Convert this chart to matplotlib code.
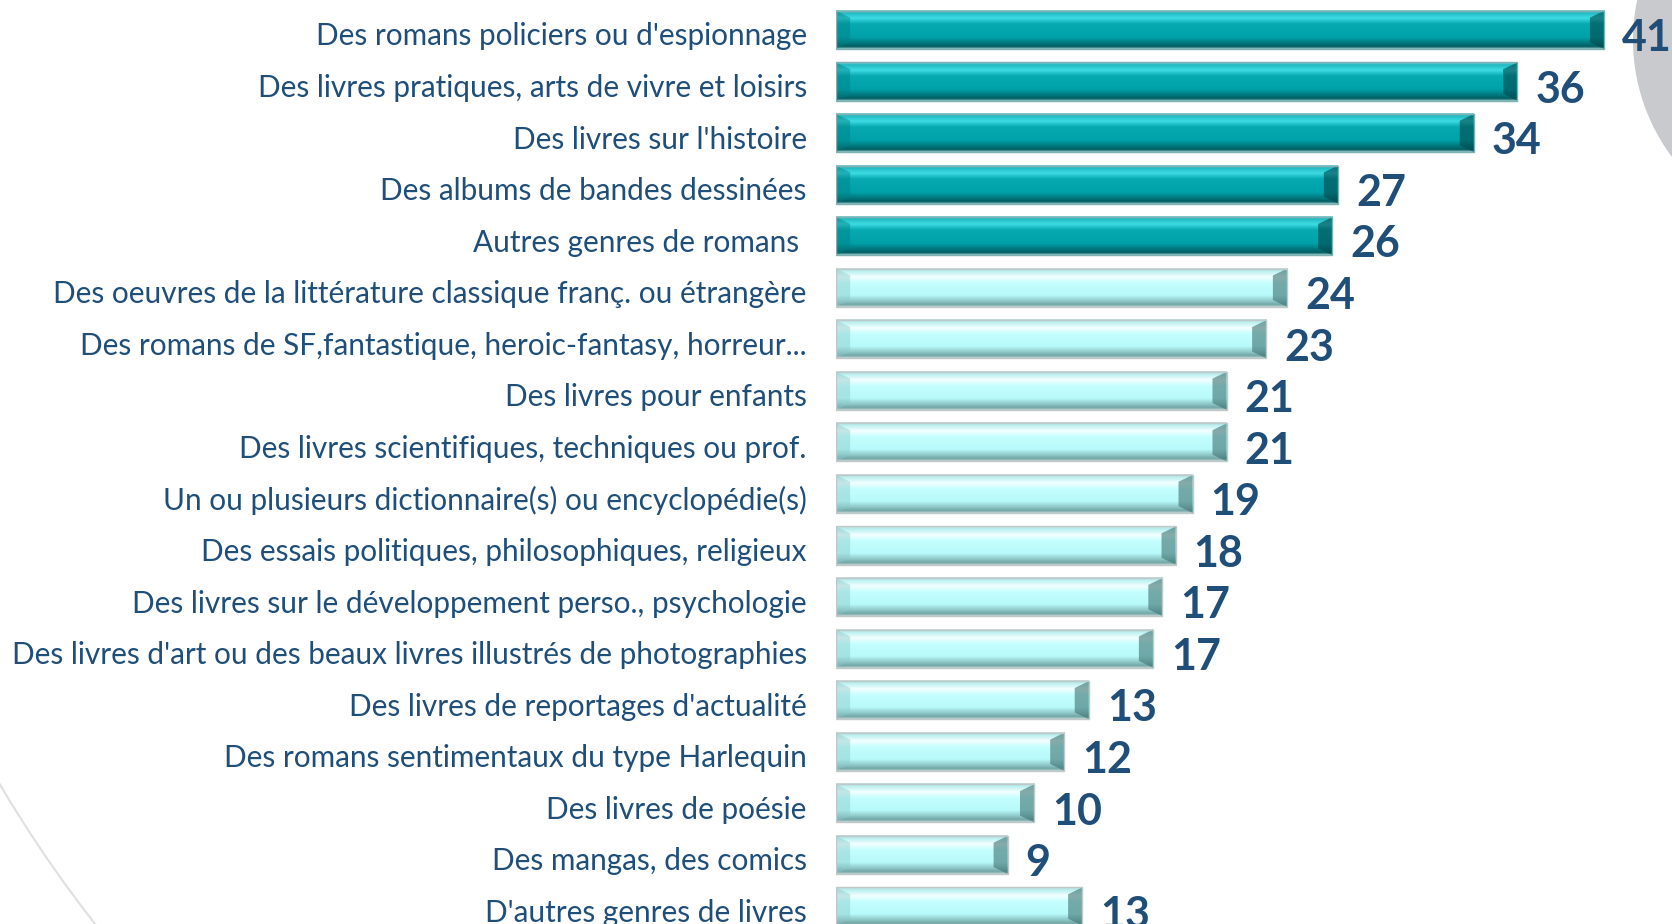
import numpy as np
import matplotlib
matplotlib.use("Agg")
import matplotlib.pyplot as plt
from matplotlib.colors import LinearSegmentedColormap
from matplotlib.patches import Circle, Polygon, Rectangle
from matplotlib.transforms import ScaledTranslation

labels = [
    "Des romans policiers ou d'espionnage",
    "Des livres pratiques, arts de vivre et loisirs",
    "Des livres sur l'histoire",
    "Des albums de bandes dessinées",
    "Autres genres de romans ",
    "Des oeuvres de la littérature classique franç. ou étrangère",
    "Des romans de SF,fantastique, heroic-fantasy, horreur...",
    "Des livres pour enfants",
    "Des livres scientifiques, techniques ou prof.",
    "Un ou plusieurs dictionnaire(s) ou encyclopédie(s)",
    "Des essais politiques, philosophiques, religieux",
    "Des livres sur le développement perso., psychologie",
    "Des livres d'art ou des beaux livres illustrés de photographies",
    "Des livres de reportages d'actualité",
    "Des romans sentimentaux du type Harlequin",
    "Des livres de poésie",
    "Des mangas, des comics",
    "D'autres genres de livres",
]
shares = [40.7, 36.1, 33.8, 26.6, 26.3, 23.9, 22.8, 20.7, 20.7, 18.9, 18.0, 17.3,
          16.8, 13.4, 12.1, 10.5, 9.1, 13.05]
shown = [41, 36, 34, 27, 26, 24, 23, 21, 21, 19, 18, 17, 17, 13, 12, 10, 9, 13]
n_dark = 5  # top genres drawn in dark teal

txt_color = "#1F4E79"

# vertical shading of the bars (top -> bottom)
dark_cmap = LinearSegmentedColormap.from_list("dk", [
    (0.0, "#8FD0D2"), (0.06, "#1FB8C0"), (0.2, "#3FDCE4"), (0.35, "#08AAB2"),
    (0.7, "#00A2AA"), (0.85, "#00787E"), (0.95, "#005A5E"), (1.0, "#9CCFD0")])
light_cmap = LinearSegmentedColormap.from_list("lt", [
    (0.0, "#C9D6D6"), (0.06, "#B4EEEE"), (0.22, "#F4FFFF"), (0.38, "#C4FEFE"),
    (0.7, "#B8FAFA"), (0.85, "#90C9C9"), (0.95, "#6EA4A4"), (1.0, "#C8D4D4")])

fig = plt.figure(figsize=(16.72, 9.24), dpi=100)

# background decoration (pixel coordinates)
bg = fig.add_axes([0, 0, 1, 1], zorder=0)
bg.set_xlim(0, 1672)
bg.set_ylim(924, 0)
bg.axis("off")
bg.add_patch(Circle((1828, 40), 195, color="#C9CACE", lw=0))
bg.add_patch(Circle((1119, 123), 1300, fill=False, edgecolor="#E0E0E0", lw=1.5))

ax = fig.add_axes([0.5, 0, 0.5, 1], zorder=1)
ax.patch.set_alpha(0)

y = np.arange(len(shares))
h = 0.74
bev_x = 0.75
bev_y = 0.18 * h
grad = np.linspace(0, 1, 64).reshape(-1, 1)

for i, v in enumerate(shares):
    top, bot = y[i] - h / 2, y[i] + h / 2
    dark = i < n_dark
    cmap = dark_cmap if dark else light_cmap
    ax.imshow(grad, cmap=cmap, aspect="auto", extent=[0, v, bot, top],
              interpolation="bicubic", zorder=2)
    # end bevels
    ax.add_patch(Polygon([(0, top), (bev_x, top + bev_y), (bev_x, bot - bev_y), (0, bot)],
                         closed=True, lw=0, zorder=3,
                         facecolor="#007F86" if dark else "#8ACACA", alpha=0.45))
    ax.add_patch(Polygon([(v, top), (v - bev_x, top + bev_y), (v - bev_x, bot - bev_y), (v, bot)],
                         closed=True, lw=0, zorder=3,
                         facecolor="#00484C" if dark else "#3F7272", alpha=0.6))
    ax.add_patch(Rectangle((0, top), v, h, fill=False, lw=1.0, zorder=4,
                           edgecolor="#7FB0B2" if dark else "#BFC9C9"))
    ax.text(v + 0.95, y[i] + 0.16, str(shown[i]), ha="left", va="center",
            fontsize=31, fontweight="bold", family="Lato", color=txt_color, zorder=5)

ax.set_xlim(0, 44.3)
ax.set_ylim(17.34, -0.58)
ax.set_yticks(y)
ax.set_yticklabels(labels, family="Lato", fontsize=21.4, color=txt_color)
ax.tick_params(axis="y", length=0, pad=21)
ax.set_xticks([])
for s in ax.spines.values():
    s.set_visible(False)
shift = ScaledTranslation(0, -0.04, fig.dpi_scale_trans)
for lab in ax.get_yticklabels():
    lab.set_transform(lab.get_transform() + shift)

fig.savefig("out.png", dpi=100)
